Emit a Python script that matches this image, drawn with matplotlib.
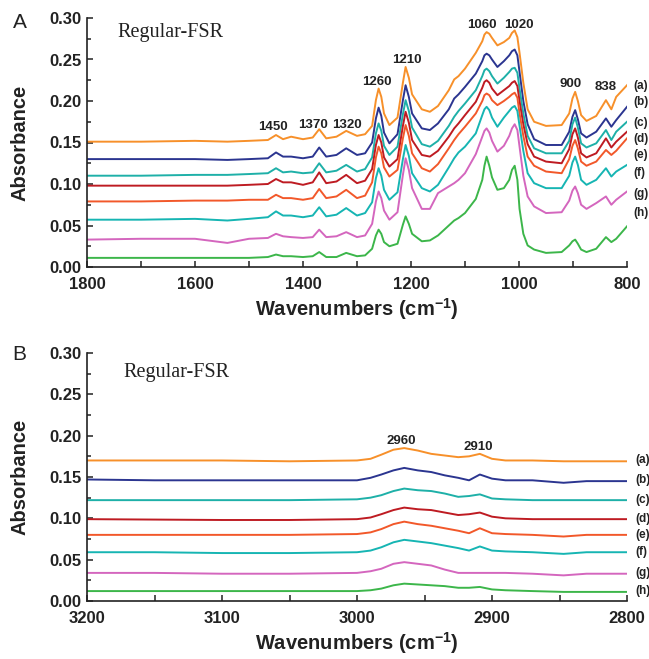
import matplotlib
matplotlib.use("Agg")
import matplotlib.pyplot as plt
from matplotlib.ticker import MultipleLocator, FormatStrFormatter
from matplotlib.transforms import blended_transform_factory

# ---------------- data ----------------
series_labels = ["(a)", "(b)", "(c)", "(d)", "(e)", "(f)", "(g)", "(h)"]
colors = ["#F7902A", "#2B3590", "#1EB0A8", "#BE1B22", "#F2582A", "#16B5B3", "#D466BE", "#3CB64A"]

# Panel A: fingerprint region
wn_A = [1800, 1700, 1600, 1540, 1500, 1465, 1450, 1437, 1422, 1400,
        1382, 1370, 1357, 1338, 1320, 1300, 1285, 1272, 1265, 1260,
        1255, 1250, 1240, 1225, 1215, 1210, 1204, 1198, 1180, 1165,
        1150, 1130, 1120, 1112, 1100, 1080, 1068, 1064, 1060, 1055,
        1050, 1040, 1028, 1018, 1013, 1008, 1003, 999, 992, 984,
        972, 950, 921, 907, 901, 896, 891, 885, 875, 857,
        839, 829, 820, 800]

A_a = [.151, .151, .152, .151, .152, .153, .159, .154, .157, .154,
       .156, .166, .155, .157, .164, .158, .160, .170, .201, .215,
       .205, .185, .171, .180, .222, .241, .228, .208, .190, .187,
       .194, .213, .226, .230, .239, .258, .272, .280, .283, .281,
       .276, .267, .271, .276, .282, .285, .277, .258, .222, .190,
       .175, .170, .171, .185, .203, .211, .200, .183, .176, .182,
       .201, .190, .205, .219]
A_b = [.130, .130, .130, .129, .130, .131, .138, .133, .133, .131,
       .133, .144, .133, .135, .143, .135, .137, .150, .179, .192,
       .182, .162, .149, .160, .201, .219, .205, .185, .167, .165,
       .173, .190, .203, .208, .217, .233, .248, .255, .257, .255,
       .250, .241, .248, .255, .260, .262, .255, .235, .200, .172,
       .154, .147, .147, .163, .181, .189, .178, .161, .156, .163,
       .179, .169, .177, .193]
A_c = [.110, .110, .111, .111, .112, .113, .119, .114, .115, .113,
       .114, .125, .114, .116, .123, .115, .118, .132, .161, .173,
       .164, .146, .135, .145, .184, .201, .188, .168, .148, .145,
       .152, .170, .181, .188, .197, .213, .230, .237, .239, .236,
       .230, .221, .228, .235, .239, .240, .234, .215, .185, .158,
       .143, .137, .137, .152, .172, .180, .168, .149, .144, .149,
       .165, .153, .163, .175]
A_d = [.098, .098, .098, .098, .099, .100, .106, .102, .102, .099,
       .102, .114, .101, .103, .111, .101, .104, .118, .147, .159,
       .150, .132, .121, .130, .170, .187, .174, .153, .135, .133,
       .140, .157, .167, .173, .183, .199, .216, .223, .225, .222,
       .215, .207, .213, .218, .222, .224, .218, .200, .172, .148,
       .133, .127, .125, .142, .160, .167, .156, .137, .132, .137,
       .155, .144, .151, .163]
A_e = [.079, .079, .080, .080, .081, .081, .087, .083, .083, .081,
       .083, .094, .083, .085, .093, .083, .086, .102, .132, .145,
       .137, .120, .109, .117, .155, .171, .158, .137, .119, .115,
       .124, .143, .153, .160, .169, .185, .200, .207, .209, .207,
       .201, .195, .200, .205, .208, .210, .204, .185, .158, .133,
       .122, .115, .113, .130, .146, .153, .143, .127, .122, .127,
       .141, .135, .140, .155]
A_f = [.057, .057, .058, .056, .058, .060, .067, .062, .062, .060,
       .062, .072, .061, .063, .071, .062, .065, .078, .107, .119,
       .110, .093, .081, .090, .130, .147, .134, .113, .095, .091,
       .099, .120, .131, .138, .145, .161, .183, .190, .193, .189,
       .180, .169, .180, .188, .192, .194, .188, .170, .140, .113,
       .101, .095, .095, .110, .126, .133, .123, .105, .099, .105,
       .119, .109, .115, .123]
A_g = [.033, .034, .034, .029, .034, .035, .040, .037, .036, .035,
       .036, .045, .036, .037, .042, .036, .038, .052, .079, .091,
       .083, .068, .057, .066, .111, .131, .117, .095, .070, .070,
       .089, .097, .101, .105, .113, .136, .157, .164, .167, .162,
       .152, .139, .146, .158, .167, .172, .165, .145, .110, .085,
       .073, .065, .066, .080, .092, .097, .089, .075, .070, .077,
       .085, .075, .081, .091]
A_h = [.011, .011, .011, .011, .011, .012, .015, .013, .013, .012,
       .013, .018, .012, .012, .017, .013, .014, .022, .038, .045,
       .040, .030, .025, .028, .051, .061, .052, .040, .031, .032,
       .038, .050, .056, .059, .065, .082, .105, .122, .133, .122,
       .108, .093, .095, .105, .117, .122, .105, .070, .040, .026,
       .021, .017, .018, .026, .031, .033, .028, .021, .018, .022,
       .036, .030, .034, .049]

# Panel B: C-H stretching region
wn_B = [3200, 3150, 3100, 3050, 3000, 2990, 2982, 2973, 2965, 2955, 2945, 2935, 2925, 2917,
        2909, 2900, 2890, 2870, 2847, 2830, 2800]
B_a = [.170, .170, .170, .169, .170, .172, .177, .183, .185, .182, .178, .176, .174, .175,
       .178, .172, .170, .170, .169, .169, .169]
B_b = [.147, .146, .146, .146, .146, .149, .153, .158, .161, .158, .156, .152, .149, .146,
       .153, .148, .146, .146, .143, .145, .145]
B_c = [.122, .122, .122, .122, .123, .125, .128, .133, .136, .134, .133, .130, .126, .127,
       .129, .124, .123, .122, .122, .122, .122]
B_d = [.099, .0985, .098, .098, .099, .101, .105, .110, .113, .111, .110, .107, .104, .105,
       .107, .102, .100, .099, .099, .099, .099]
B_e = [.080, .080, .080, .080, .081, .083, .087, .093, .096, .093, .091, .088, .085, .082,
       .088, .082, .081, .080, .078, .080, .080]
B_f = [.059, .059, .058, .058, .059, .061, .065, .071, .074, .072, .070, .067, .064, .061,
       .066, .061, .060, .059, .057, .059, .059]
B_g = [.034, .034, .033, .033, .034, .036, .039, .045, .047, .045, .043, .038, .034, .034,
       .034, .034, .034, .033, .031, .033, .033]
B_h = [.012, .012, .012, .012, .012, .013, .015, .019, .021, .020, .019, .018, .016, .016,
       .017, .014, .013, .012, .011, .011, .011]

# annotation labels
peaks_A = ["1450", "1370", "1320", "1260", "1210", "1060", "1020", "900", "838"]
peaks_A_pos = [1456, 1381, 1319, 1263, 1207, 1069, 1000, 904, 839]
peaks_A_y = [0.169, 0.171, 0.171, 0.223, 0.249, 0.2916, 0.2916, 0.221, 0.217]
labels_A_y = [0.218, 0.199, 0.173, 0.154, 0.135, 0.113, 0.0876, 0.0647]

peaks_B = ["2960", "2910"]
peaks_B_pos = [2967, 2910]
peaks_B_y = [0.194, 0.1866]
labels_B_y = [0.170, 0.146, 0.122, 0.099, 0.080, 0.059, 0.034, 0.012]

title_text = "Regular-FSR"
xlabel_text = "Wavenumbers (cm$^{\\mathbf{-1}}$)"
ylabel_text = "Absorbance"

# ---------------- figure ----------------
W, H = 649, 659
fig = plt.figure(figsize=(W / 100, H / 100), dpi=100)
plt.rcParams['font.family'] = ['Liberation Sans', 'DejaVu Sans']
plt.rcParams['mathtext.fontset'] = 'custom'
plt.rcParams['mathtext.bf'] = 'Liberation Sans:bold'
plt.rcParams['mathtext.rm'] = 'Liberation Sans:bold'

def px_axes(left, top, right, bottom):
    return [left / W, 1 - bottom / H, (right - left) / W, (bottom - top) / H]

axA = fig.add_axes(px_axes(87, 18, 627, 267))
axB = fig.add_axes(px_axes(87, 353, 627, 601))

A_series = [A_a, A_b, A_c, A_d, A_e, A_f, A_g, A_h]
B_series = [B_a, B_b, B_c, B_d, B_e, B_f, B_g, B_h]


def style_axes(ax, xlim, xmajor, xminor):
    ax.set_xlim(*xlim)
    ax.set_ylim(0, 0.30)
    for s in ["top", "right"]:
        ax.spines[s].set_visible(False)
    for s in ["left", "bottom"]:
        ax.spines[s].set_linewidth(1.2)
        ax.spines[s].set_color("#222222")
    ax.xaxis.set_major_locator(MultipleLocator(xmajor))
    ax.xaxis.set_minor_locator(MultipleLocator(xminor))
    ax.yaxis.set_major_locator(MultipleLocator(0.05))
    ax.yaxis.set_minor_locator(MultipleLocator(0.025))
    ax.yaxis.set_major_formatter(FormatStrFormatter("%.2f"))
    ax.tick_params(axis="x", which="both", direction="in", length=4.5, width=1.1,
                   color="#222222", pad=7, labelsize=12)
    ax.tick_params(axis="y", which="major", direction="in", length=4.5, width=1.1,
                   color="#222222", pad=4, labelsize=12)
    ax.tick_params(axis="y", which="minor", direction="in", length=3, width=1.1,
                   color="#222222")
    for lab in ax.get_xticklabels() + ax.get_yticklabels():
        lab.set_fontweight("bold")
        lab.set_color("#222222")
    ax.set_xlabel(xlabel_text, fontsize=14.5, fontweight="bold", color="#222222")
    ax.xaxis.label.set_va("center")
    ax.xaxis.set_label_coords(0.5, -42 / 249)
    ax.set_ylabel(ylabel_text, fontsize=14.5, fontweight="bold", color="#222222")
    ax.yaxis.label.set_va("center")
    ax.yaxis.set_label_coords(-67 / 540, 0.5)
    ax.patch.set_visible(False)


for ys, c in zip(A_series, colors):
    axA.plot(wn_A, ys, color=c, lw=1.4, solid_joinstyle="round")
for ys, c in zip(B_series, colors):
    axB.plot(wn_B, ys, color=c, lw=1.4, solid_joinstyle="round")

style_axes(axA, (1800, 800), 200, 100)
style_axes(axB, (3200, 2800), 100, 50)

for t, xp, yp in zip(peaks_A, peaks_A_pos, peaks_A_y):
    axA.text(xp, yp, t, ha="center", va="center", fontsize=9.5, fontweight="bold",
             color="#222222")
for t, xp, yp in zip(peaks_B, peaks_B_pos, peaks_B_y):
    axB.text(xp, yp, t, ha="center", va="center", fontsize=9.5, fontweight="bold",
             color="#222222")

trA = blended_transform_factory(axA.transAxes, axA.transData)
trB = blended_transform_factory(axB.transAxes, axB.transData)
for t, yp in zip(series_labels, labels_A_y):
    axA.text(1.012, yp, t, transform=trA, ha="left", va="center", fontsize=8.5,
             fontweight="bold", color="#222222", clip_on=False)
for t, yp in zip(series_labels, labels_B_y):
    axB.text(1.015, yp, t, transform=trB, ha="left", va="center", fontsize=8.5,
             fontweight="bold", color="#222222", clip_on=False)

# titles inside the axes
fig.text(117 / W, 1 - 32 / H, title_text, ha="left", va="center", fontsize=14.5,
         family="Liberation Serif", color="#222222")
fig.text(123 / W, 1 - 372 / H, title_text, ha="left", va="center", fontsize=14.5,
         family="Liberation Serif", color="#222222")

# panel letters
fig.text(20 / W, 1 - 23 / H, "A", ha="center", va="center", fontsize=15, color="#222222")
fig.text(19 / W, 1 - 355 / H, "B", ha="center", va="center", fontsize=15, color="#222222")

fig.savefig("out.png", dpi=100)
